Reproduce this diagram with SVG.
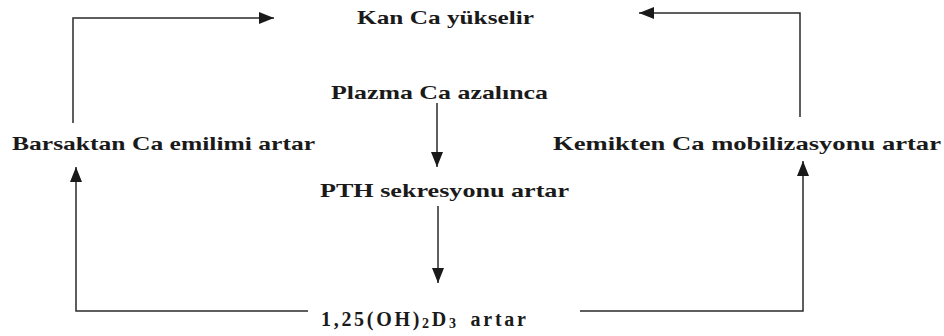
<svg xmlns="http://www.w3.org/2000/svg" width="944" height="336" viewBox="0 0 944 336">
<style>
.t{font-family:"Liberation Serif","Times New Roman",serif;font-weight:bold;font-size:19px;fill:#1a1a1a}
.c{fill:none;stroke:#2a2a2a;stroke-width:1.5}
</style>
<defs>
<marker id="ah" markerUnits="userSpaceOnUse" markerWidth="16" markerHeight="12" refX="15" refY="6" orient="auto">
<path d="M0,0 L15,6 L0,12 Z" fill="#1a1a1a"/>
</marker>
</defs>
<rect width="944" height="336" fill="#fff"/>
<g id="connectors">
<path class="c" d="M73,123 V18 H274" marker-end="url(#ah)"/>
<path class="c" d="M800,117 V13 H639" marker-end="url(#ah)"/>
<path class="c" d="M437,103 V167" marker-end="url(#ah)"/>
<path class="c" d="M438,206 V283" marker-end="url(#ah)"/>
<path class="c" d="M308,311 H76 V167" marker-end="url(#ah)"/>
<path class="c" d="M580,311 H803 V161" marker-end="url(#ah)"/>
</g>
<g id="kan"><text class="t" x="357" y="24" textLength="177" lengthAdjust="spacingAndGlyphs">Kan Ca yükselir</text></g>
<g id="plazma"><text class="t" x="331" y="99" textLength="217" lengthAdjust="spacingAndGlyphs">Plazma Ca azalınca</text></g>
<g id="barsak"><text class="t" x="12" y="150" textLength="303" lengthAdjust="spacingAndGlyphs">Barsaktan Ca emilimi artar</text></g>
<g id="kemik"><text class="t" x="553" y="150" textLength="388" lengthAdjust="spacingAndGlyphs">Kemikten Ca mobilizasyonu artar</text></g>
<g id="pth"><text class="t" x="320" y="197" textLength="249" lengthAdjust="spacingAndGlyphs">PTH sekresyonu artar</text></g>
<g id="vitd"><text class="t" x="321" y="326" style="font-size:20px" letter-spacing="2.7">1,25(OH)<tspan style="font-size:14px" dy="2">2</tspan><tspan dy="-2">D</tspan><tspan style="font-size:14px" dy="2">3</tspan><tspan dy="-2" dx="12">artar</tspan></text></g>
</svg>
